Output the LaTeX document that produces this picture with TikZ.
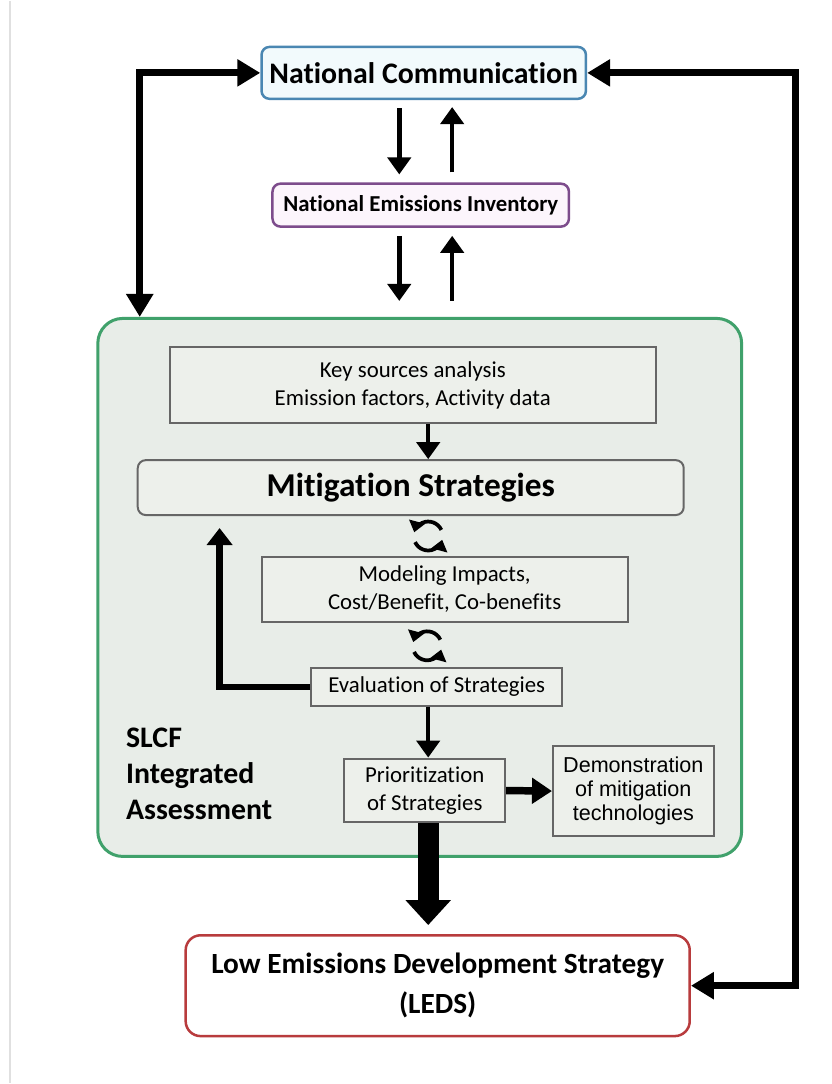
\documentclass[tikz,border=0pt]{standalone}
\usepackage{fontspec}
\setmainfont{Carlito}[RawFeature={-liga;-clig}]
\newfontfamily\arialfont{Liberation Sans}
\usetikzlibrary{arrows.meta}
\usetikzlibrary{positioning}
\definecolor{ncblue}{rgb}{0.29, 0.53, 0.70}
\definecolor{ncfill}{rgb}{0.95, 0.98, 0.99}
\definecolor{neipurple}{rgb}{0.49, 0.30, 0.55}
\definecolor{neifill}{rgb}{0.99, 0.96, 0.99}
\definecolor{slcfgreen}{rgb}{0.25, 0.63, 0.42}
\definecolor{slcffill}{rgb}{0.91, 0.93, 0.91}
\definecolor{boxgray}{rgb}{0.40, 0.40, 0.40}
\definecolor{boxfill}{rgb}{0.93, 0.94, 0.92}
\definecolor{ledsred}{rgb}{0.72, 0.23, 0.24}

\tikzset{
    topbox/.style={draw, rounded corners=1.6mm, line width=0.5mm, align=center, inner sep=0pt},
    subbox/.style={draw=boxgray, fill=boxfill, line width=0.4mm, align=center, inner sep=0pt,
        font=\fontsize{13}{16}\selectfont},
    looparrow/.style={line width=1.4mm, {Triangle[length=4.6mm, width=5.2mm]}-{Triangle[length=4.6mm, width=5.2mm]}},
    thinarrow/.style={line width=0.9mm, -{Triangle[length=3.4mm, width=4.6mm]}},
    fbarrow/.style={line width=1.3mm, -{Triangle[length=3.4mm, width=5mm]}},
    thickarrow/.style={line width=1.5mm, -{Triangle[length=4mm, width=5mm]}},
    bigarrow/.style={line width=4.2mm, -{Triangle[length=5mm, width=8.8mm]}},
    cyclemark/.pic={
        \draw [line width=0.75mm, -{Triangle[length=2.2mm, width=3.2mm]}] (25:2.9mm) arc [start angle=25, end angle=165, radius=2.9mm];
        \draw [line width=0.75mm, -{Triangle[length=2.2mm, width=3.2mm]}] (205:2.9mm) arc [start angle=205, end angle=345, radius=2.9mm];
    }
}

\begin{document}
\begin{tikzpicture}[x=0.2mm, y=-0.2mm]
    \path [fill=white] (0, 0) rectangle (833, 1084);
    \draw [black!12, line width=0.4mm] (10, 0) -- (10, 1084);

    \coordinate (lx) at (140, 70);
    \coordinate (rx) at (797, 70);
    \coordinate (dnx) at (400, 0);
    \coordinate (upx) at (453, 0);
    \coordinate (col) at (429, 0);
    \coordinate (fbx) at (220, 686);

    \node [topbox, draw=ncblue, fill=ncfill, minimum width=65mm, minimum height=10.4mm, font=\bfseries\fontsize{17}{20}\selectfont] (nc) at (424.5, 72) {National Communication};
    \node [topbox, draw=neipurple, fill=neifill, minimum width=59.4mm, minimum height=8.6mm, font=\bfseries\fontsize{13}{16}\selectfont] (nei) at (421.5, 204.5) {National Emissions Inventory};

    \node [draw=slcfgreen, fill=slcffill, line width=0.6mm, rounded corners=5mm, minimum width=129mm, minimum height=107.8mm] (slcf) at (420.5, 587.5) {};
    \node [anchor=west, align=left, inner sep=0pt, font=\bfseries\fontsize{17}{20.5}\selectfont] (slcflabel) at (126, 774) {SLCF\\Integrated\\Assessment};

    \node [subbox, minimum width=97.4mm, minimum height=15.2mm] (ksa) at (413.5, 385) {Key sources analysis\\Emission factors, Activity data};
    \node [subbox, rounded corners=1.6mm, minimum width=109.4mm, minimum height=11mm, font=\bfseries\fontsize{19}{22}\selectfont] (mit) at (411.5, 487.5) {Mitigation Strategies};
    \node [subbox, minimum width=73.4mm, minimum height=13mm] (mod) at (445.5, 589.5) {Modeling Impacts,\\Cost/Benefit, Co-benefits};
    \node [subbox, minimum width=50.2mm, minimum height=7.6mm] (eval) at (437.5, 687) {Evaluation of Strategies};
    \node [subbox, minimum width=32.2mm, minimum height=12.8mm] (prio) at (425.5, 791) {Prioritization\\of Strategies};
    \node [subbox, minimum width=32.2mm, minimum height=18.2mm, font=\arialfont\fontsize{12.3}{13.8}\selectfont] (demo) at (634.5, 791.5) {Demonstration\\of mitigation\\technologies};

    \node [topbox, draw=ledsred, fill=white, rounded corners=3mm, minimum width=101mm, minimum height=20.2mm, font=\bfseries\fontsize{16.7}{22.7}\selectfont] (leds) at (438.5, 986.5) {Low Emissions Development Strategy\\(LEDS)};

    \draw [looparrow] (nc.west) -- (nc.west -| lx) -- (lx |- slcf.north);
    \draw [looparrow] (nc.east) -- (nc.east -| rx) -- (rx |- leds.east) -- (leds.east);

    \draw [thinarrow, shorten <=1.6mm, shorten >=1.6mm] (nc.south -| dnx) -- (nei.north -| dnx);
    \draw [thinarrow, shorten <=2mm, shorten >=1.4mm] (nei.north -| upx) -- (nc.south -| upx);
    \draw [thinarrow, shorten <=1.6mm, shorten >=3.2mm] (nei.south -| dnx) -- (slcf.north -| dnx);
    \draw [thinarrow, shorten <=3.2mm, shorten >=1.6mm] (slcf.north -| upx) -- (nei.south -| upx);

    \draw [thinarrow] (ksa.south -| col) -- (mit.north -| col);
    \pic at (429, 536) {cyclemark};
    \pic at (428, 646) {cyclemark};
    \draw [fbarrow, shorten >=2.4mm] (eval.west) -- (eval.west -| fbx) -- (fbx |- mit.south);
    \draw [thinarrow] (eval.south -| col) -- (prio.north -| col);
    \draw [thickarrow] (prio.east) -- (demo.west);
    \draw [bigarrow, shorten >=1.8mm] (prio.south -| col) -- (leds.north -| col);
\end{tikzpicture}
\end{document}
